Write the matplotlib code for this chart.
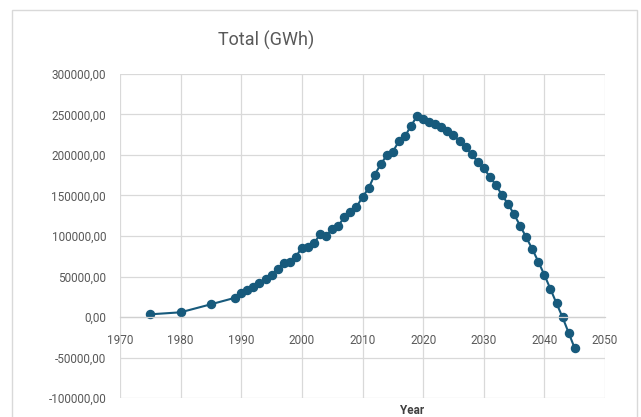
import matplotlib.pyplot as plt
from matplotlib.patches import Rectangle
from matplotlib.ticker import FuncFormatter

# yearly totals (GWh)
years = [1975, 1980, 1985, 1989, 1990, 1991, 1992, 1993, 1994, 1995,
         1996, 1997, 1998, 1999, 2000, 2001, 2002, 2003, 2004, 2005,
         2006, 2007, 2008, 2009, 2010, 2011, 2012, 2013, 2014, 2015,
         2016, 2017, 2018, 2019, 2020, 2021, 2022, 2023, 2024, 2025,
         2026, 2027, 2028, 2029, 2030, 2031, 2032, 2033, 2034, 2035,
         2036, 2037, 2038, 2039, 2040, 2041, 2042, 2043, 2044, 2045]
total_gwh = [3300, 5800, 15700, 23800, 29200, 33300, 36600, 41600, 46900, 51800,
             59200, 66300, 67500, 74400, 85600, 86800, 91000, 102000, 100400, 108300,
             112800, 123000, 130000, 135800, 148100, 158900, 175300, 188500, 199600, 204000,
             217000, 223000, 236000, 248000, 244000, 241100, 238300, 235000, 229600, 224700,
             216900, 209500, 200900, 191800, 183600, 173200, 163000, 150600, 139500, 126800,
             112700, 98400, 84000, 68300, 51900, 34600, 16900, -400, -19400, -38600]

x_ticks = [1970, 1980, 1990, 2000, 2010, 2020, 2030, 2040, 2050]
y_ticks = [-100000, -50000, 0, 50000, 100000, 150000, 200000, 250000, 300000]

plt.rcParams['font.family'] = ['Roboto', 'DejaVu Sans']

fig = plt.figure(figsize=(6.41, 4.17), dpi=100)
fig.patch.set_facecolor('white')

# chart area frame
fig.patches.append(Rectangle((12 / 641, -0.05), 625 / 641, 1 - 10 / 417 + 0.05,
                             transform=fig.transFigure, facecolor='none',
                             edgecolor='#d9d9d9', linewidth=1.0))

ax = fig.add_axes([120 / 641, 1 - 398 / 417, 485 / 641, 324 / 417])
ax.plot(years, total_gwh, color='#175a7c', linewidth=1.5, marker='o',
        markersize=5.8, markerfacecolor='#175a7c', markeredgecolor='#175a7c')

ax.set_xlim(1970, 2050)
ax.set_ylim(-100000, 300000)
ax.set_xticks(x_ticks)
ax.set_yticks(y_ticks)
ax.yaxis.set_major_formatter(FuncFormatter(lambda v, p: f"{v:.2f}".replace('.', ',')))

ax.grid(True, color='#d9d9d9', linewidth=0.9)
ax.set_axisbelow(True)
for side in ['top', 'right', 'left']:
    ax.spines[side].set_visible(False)
# x axis crosses at zero
ax.spines['bottom'].set_position(('data', 0))
ax.spines['bottom'].set_color('#d0d0d0')
ax.spines['bottom'].set_linewidth(0.9)

ax.tick_params(axis='both', length=0, labelsize=8.5, labelcolor='#595959')
ax.tick_params(axis='y', pad=10)
ax.tick_params(axis='x', pad=12)

fig.text(266 / 641, 1 - 40 / 417, 'Total (GWh)', ha='center', va='center',
         fontsize=13, color='#595959')
fig.text(412 / 641, 1 - 410 / 417, 'Year', ha='center', va='center',
         fontsize=8.5, color='#404040', fontweight='bold')

fig.savefig('out.png', dpi=100)
